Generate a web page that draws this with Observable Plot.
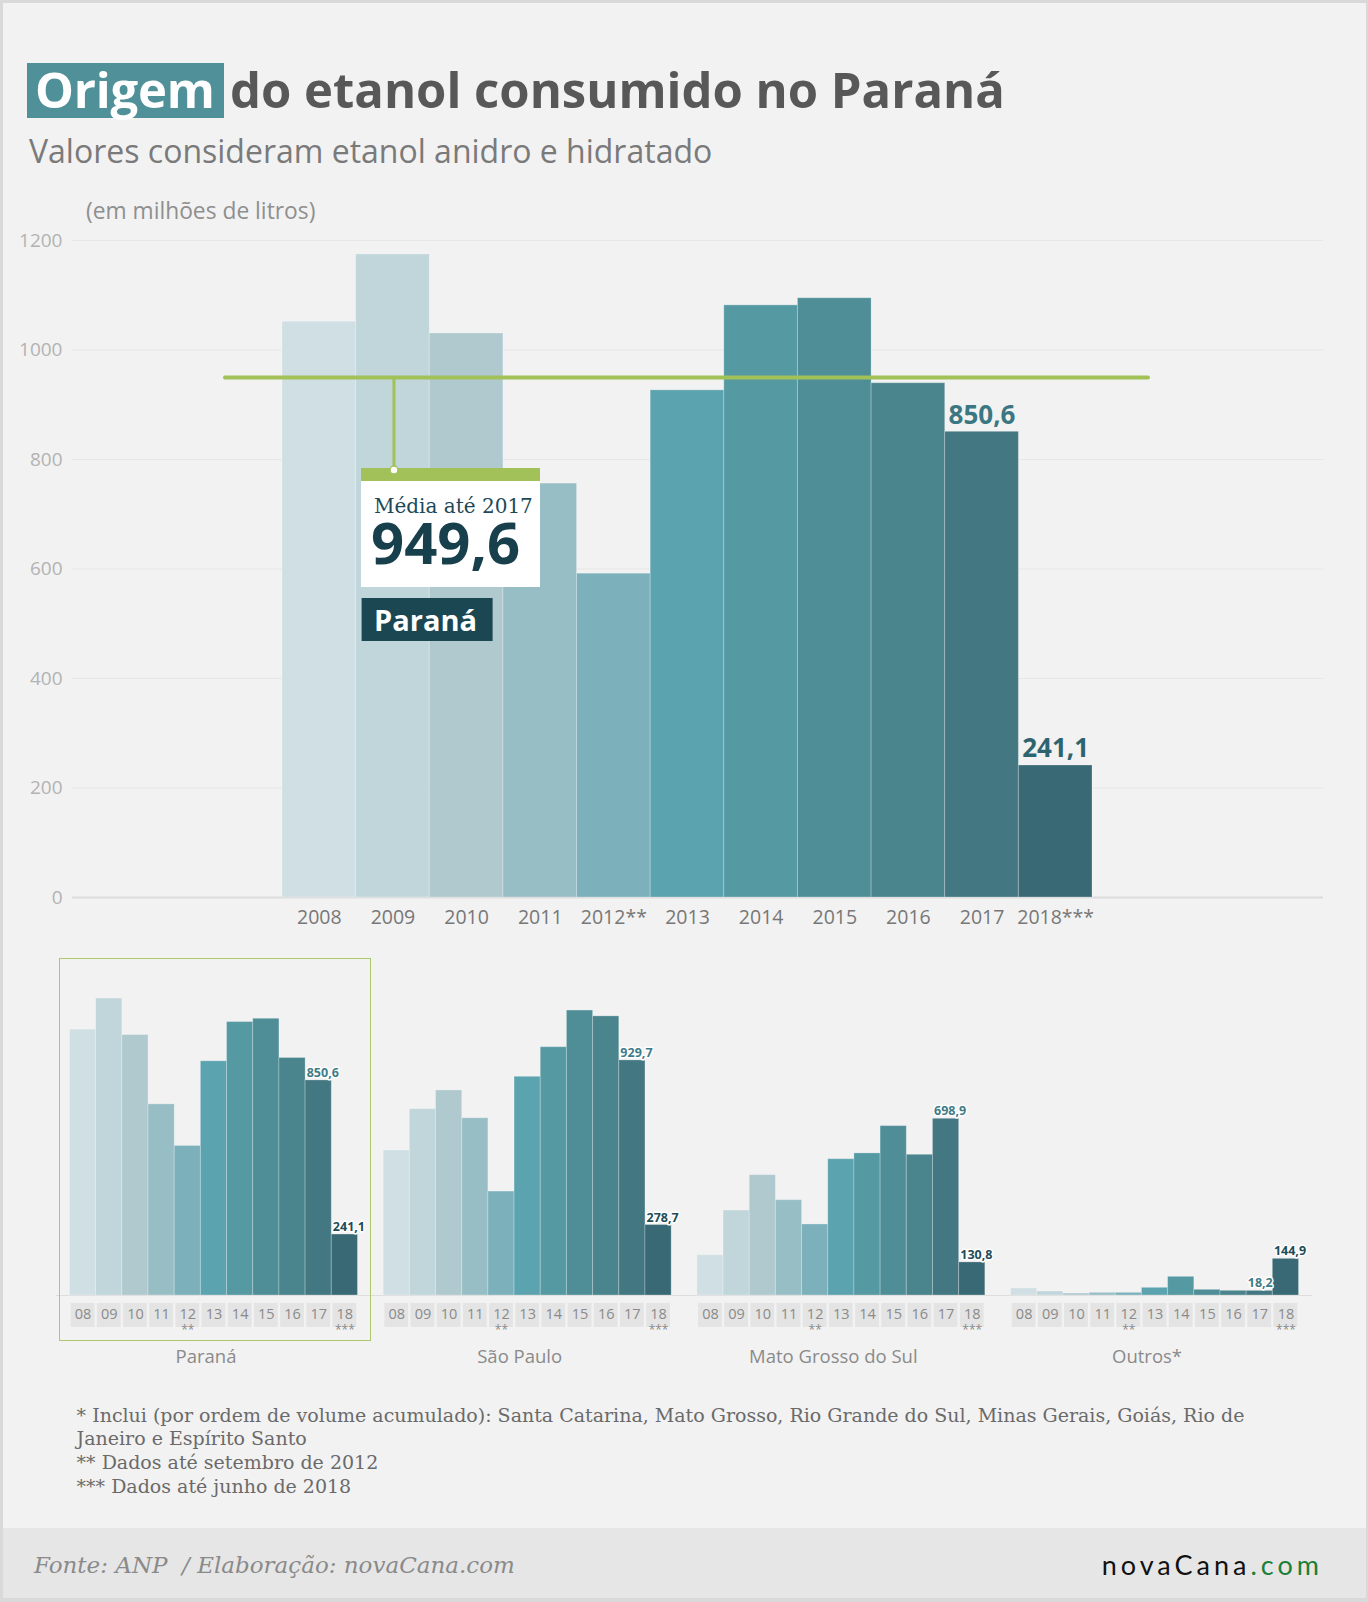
<!DOCTYPE html>
<html lang="pt-BR">
<head>
<meta charset="utf-8">
<title>Origem do etanol consumido no Paraná</title>
<script src="https://cdn.jsdelivr.net/npm/d3@7"></script>
<script src="https://cdn.jsdelivr.net/npm/@observablehq/plot@0.6"></script>
<style>
  html, body { margin: 0; padding: 0; background: #f2f2f2; }
  #page { position: relative; width: 1368px; height: 1602px; background: #f2f2f2; overflow: hidden;
          font-family: "Open Sans", Lato, sans-serif; }
  #page > * { position: absolute; margin: 0; }
  .t { white-space: nowrap; line-height: 1.2; }
  #origem-box { left: 26.6px; top: 63.3px; width: 197.2px; height: 55.2px; background: #4f9099; }
  #origem { left: 35px; top: 59.9px; font-size: 49px; font-weight: 700; color: #ffffff; letter-spacing: -0.2px; }
  #title-rest { left: 230px; top: 59.9px; font-size: 49px; font-weight: 700; color: #585858; }
  #subtitle { left: 29px; top: 131.9px; font-size: 32px; color: #7a7a7a; }
  #unit { left: 86px; top: 196.5px; font-size: 22.8px; color: #8f8f8f; }
  #notes { left: 76.6px; top: 1403.5px; font-family: "DejaVu Serif", serif; font-size: 19px;
           line-height: 23.8px; color: #6a6a6a; white-space: nowrap; }
  #footer { left: 0; top: 1528px; width: 1368px; height: 74px; background: #e6e6e6; }
  #source { left: 34px; top: 1552.2px; font-family: "DejaVu Serif", serif; font-style: italic;
            font-size: 23px; color: #8a8a8a; }
  #logo { left: 1101.7px; top: 1549px; font-family: Lato, sans-serif; font-size: 27px; font-weight: 400;
          color: #111111; letter-spacing: 4px; }
  #logo span { color: #1b7f36; }
  #highlight { border: 1.5px solid #a9c86f; box-sizing: border-box; }
  #frame { left: 0; top: 0; width: 1368px; height: 1602px; box-sizing: border-box;
           border: 3px solid #d9d9d9; border-right-width: 2px; border-bottom-width: 4px; pointer-events: none; }
</style>
</head>
<body>
<div id="page">
  <div id="origem-box"></div>
  <div id="origem" class="t">Origem</div>
  <div id="title-rest" class="t">do etanol consumido no Paraná</div>
  <div id="subtitle" class="t">Valores consideram etanol anidro e hidratado</div>
  <div id="unit" class="t">(em milhões de litros)</div>
  <div id="notes">* Inclui (por ordem de volume acumulado): Santa Catarina, Mato Grosso, Rio Grande do Sul, Minas Gerais, Goiás, Rio de<br>Janeiro e Espírito Santo<br>** Dados até setembro de 2012<br>*** Dados até junho de 2018</div>
  <div id="footer"></div>
  <div id="source" class="t">Fonte: ANP&nbsp; / Elaboração: novaCana.com</div>
  <div id="logo" class="t">novaCana<span>.com</span></div>
</div>
<script>
// ---------- data (milhões de litros) ----------
const years = ["2008", "2009", "2010", "2011", "2012**", "2013", "2014", "2015", "2016", "2017", "2018***"];
const yearsShort = ["08", "09", "10", "11", "12", "13", "14", "15", "16", "17", "18"];
const yearMarks = {"12": "**", "18": "***"};
const states = ["Paraná", "São Paulo", "Mato Grosso do Sul", "Outros*"];

const parana = [1051.7, 1174.5, 1030.2, 756, 591.4, 926.3, 1081.5, 1094.5, 939.3, 850.6, 241.1];
const saoPaulo = [573.6, 737, 811, 701, 411, 865, 982, 1127, 1104, 929.7, 278.7];
const matoGrossoDoSul = [159.5, 336, 476, 377, 281, 539, 562, 670, 556.5, 698.9, 130.8];
const outros = [27.7, 15.8, 7.9, 10.5, 10.5, 30.3, 73.8, 22.4, 18.5, 18.2, 144.9];

// one shade per year, light to dark
const palette = ["#d0dfe3", "#c0d6db", "#afc9cf", "#98bec5", "#7cb0ba", "#5ba3ae",
                 "#5599a3", "#4f8e97", "#4a848c", "#437781", "#396974"];

const fmt = v => v.toFixed(1).replace(".", ",");
const page = document.getElementById("page");
const green = "#a2c159";
const sans = "'Open Sans', Lato, sans-serif";

// ---------- main chart: Paraná ----------
const MAIN_TOP = 190;
const mainRows = years.map((year, i) => ({year, value: parana[i]}));
const average = d3.mean(parana.slice(0, years.indexOf("2017") + 1));

const main = Plot.plot({
  width: 1368,
  height: 750,
  marginLeft: 72,
  marginRight: 45,
  marginTop: 50,
  marginBottom: 43,
  style: {background: "transparent", fontFamily: sans, overflow: "visible"},
  x: {type: "band", domain: years, range: [282, 1092], padding: 0, round: false},
  y: {domain: [0, 1200]},
  color: {domain: years, range: palette},
  marks: [
    Plot.ruleY(d3.range(200, 1201, 200), {stroke: "#e7e7e7"}),
    Plot.ruleY([0], {stroke: "#dcdcdc", strokeWidth: 2}),
    Plot.axisY({ticks: d3.range(0, 1201, 200), tickFormat: d => String(d), tickSize: 0, tickPadding: 10,
                fontSize: 19, color: "#b3b3b3", label: null}),
    Plot.axisX({tickSize: 0, tickPadding: 13, fontSize: 19.5, color: "#777777", label: null}),
    Plot.barY(mainRows, {x: "year", y: "value", fill: "year", stroke: "#ffffff",
                         strokeOpacity: 0.25, strokeWidth: 1}),
    Plot.ruleY([average], {stroke: green, strokeWidth: 4, strokeLinecap: "round",
                           insetLeft: 153, insetRight: 175}),
    Plot.text(mainRows.slice(-2), {x: "year", y: "value", text: d => fmt(d.value), dy: -16.5,
                                   fontSize: 26, fontWeight: 700,
                                   fill: d => d.year === "2017" ? "#3b7782" : "#2e6470"})
  ]
});
main.style.left = "0px";
main.style.top = MAIN_TOP + "px";
page.appendChild(main);

// callout for the 2008–2017 average, hung from the average line
const xMain = main.scale("x");
const yMain = main.scale("y");
const stemX = xMain.apply("2009") + xMain.bandwidth / 2 + 1.5;
const stemTop = MAIN_TOP + yMain.apply(average);
const box = {x: 361, y: 468, w: 179, head: 13, body: 106};

const callout = d3.create("svg")
  .attr("width", 1368).attr("height", 1602)
  .style("left", "0px").style("top", "0px").style("pointer-events", "none");
callout.append("rect").attr("x", box.x).attr("y", box.y).attr("width", box.w).attr("height", box.head)
  .attr("fill", green);
callout.append("rect").attr("x", box.x).attr("y", box.y + box.head).attr("width", box.w).attr("height", box.body)
  .attr("fill", "#ffffff");
callout.append("line").attr("x1", stemX).attr("x2", stemX).attr("y1", stemTop).attr("y2", box.y + 2)
  .attr("stroke", green).attr("stroke-width", 3);
callout.append("circle").attr("cx", stemX).attr("cy", box.y + 2).attr("r", 4)
  .attr("fill", "#ffffff").attr("stroke", green).attr("stroke-width", 1.5);
callout.append("text").attr("x", box.x + 13).attr("y", box.y + 45)
  .attr("font-family", "DejaVu Serif, serif").attr("font-size", 20).attr("fill", "#1d4957")
  .text("Média até 2017");
callout.append("text").attr("x", box.x + 10).attr("y", box.y + 96)
  .attr("font-family", sans).attr("font-weight", 700).attr("font-size", 58).attr("fill", "#173f4c")
  .text(fmt(average));
callout.append("rect").attr("x", box.x + 0.6).attr("y", 598).attr("width", 131).attr("height", 43)
  .attr("fill", "#1b4753");
callout.append("text").attr("x", box.x + 13).attr("y", 630.5)
  .attr("font-family", sans).attr("font-weight", 700).attr("font-size", 29).attr("fill", "#ffffff")
  .text("Paraná");
page.appendChild(callout.node());

// ---------- small multiples by origin ----------
const seriesByState = [parana, saoPaulo, matoGrossoDoSul, outros];
const smallRows = states.flatMap((state, s) =>
  yearsShort.map((yr, i) => ({state, yr, value: seriesByState[s][i]})));

const fxOpts = {domain: states, paddingInner: 0.082, paddingOuter: 0.043, round: false, axis: null};
const xSmall = {domain: yearsShort, padding: 0, round: false, axis: null};
const SMALL_TOP = 960;

const small = Plot.plot({
  width: 1368,
  height: 340,
  marginLeft: 56,
  marginRight: 56,
  marginTop: 31.6,
  marginBottom: 5,
  style: {background: "transparent", fontFamily: sans, overflow: "visible"},
  fx: fxOpts,
  x: xSmall,
  y: {domain: [0, 1200], axis: null},
  color: {domain: yearsShort, range: palette},
  marks: [
    // baseline runs on through the gaps between panels
    Plot.ruleY([0], {stroke: "#dddddd", insetLeft: -13.2, insetRight: -13.2}),
    Plot.barY(smallRows, {fx: "state", x: "yr", y: "value", fill: "yr", stroke: "#ffffff",
                          strokeOpacity: 0.25, strokeWidth: 1}),
    Plot.text(smallRows.filter(d => d.yr === "17" || d.yr === "18"), {
      fx: "state", x: "yr", y: "value", text: d => fmt(d.value),
      textAnchor: "start", dx: -12, dy: -7.5, fontSize: 12.5, fontWeight: 700,
      fill: d => d.yr === "17" ? "#3e7c87" : "#1e4d58",
      stroke: "#ffffff", strokeWidth: 3, paintOrder: "stroke"
    })
  ]
});
small.style.left = "0px";
small.style.top = SMALL_TOP + "px";
page.appendChild(small);

// year tags under each panel, with the panel names
const STRIP_TOP = 1302.7;
const strip = Plot.plot({
  width: 1368,
  height: 64,
  marginLeft: 56,
  marginRight: 56,
  marginTop: 0,
  marginBottom: 40,
  style: {background: "transparent", fontFamily: sans, overflow: "visible"},
  fx: fxOpts,
  x: xSmall,
  marks: [
    Plot.cell(smallRows, {fx: "state", x: "yr", fill: "#e4e4e4", insetLeft: 1.2, insetRight: 1.2}),
    Plot.text(smallRows, {fx: "state", x: "yr", text: "yr", fontSize: 14.5, fill: "#8a8a8a", dy: -1}),
    Plot.text(smallRows.filter(d => yearMarks[d.yr]), {
      fx: "state", x: "yr", text: d => yearMarks[d.yr], frameAnchor: "bottom", dy: 6,
      fontSize: 12, fill: "#8a8a8a"
    }),
    Plot.axisFx({anchor: "bottom", tickSize: 0, tickPadding: 22, fontSize: 18.5, color: "#8a8a8a",
                 label: null, dx: -8})
  ]
});
strip.style.left = "0px";
strip.style.top = STRIP_TOP + "px";
page.appendChild(strip);

// green outline around the Paraná panel
const fxSmall = small.scale("fx");
const highlight = document.createElement("div");
highlight.id = "highlight";
highlight.style.left = (fxSmall.apply("Paraná") - 10.2) + "px";
highlight.style.top = "958.4px";
highlight.style.width = (fxSmall.bandwidth + 23.7) + "px";
highlight.style.height = "383.1px";
page.appendChild(highlight);

// outer border
const frame = document.createElement("div");
frame.id = "frame";
page.appendChild(frame);
</script>
</body>
</html>
